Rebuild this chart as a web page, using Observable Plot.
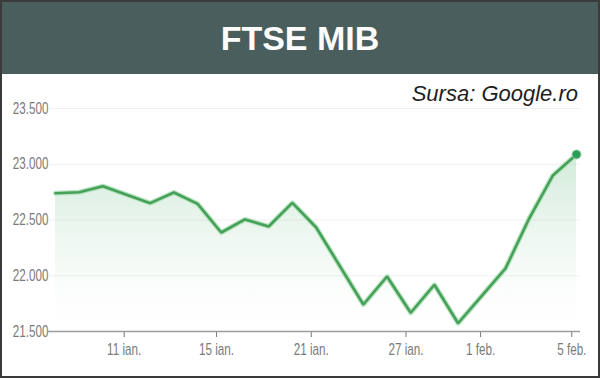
<!DOCTYPE html>
<html>
<head>
<meta charset="utf-8">
<script src="https://cdn.jsdelivr.net/npm/d3@7"></script>
<script src="https://cdn.jsdelivr.net/npm/@observablehq/plot@0.6"></script>
<style>
  html, body { margin: 0; padding: 0; background: #fff; }
  #wrap { position: relative; width: 600px; height: 378px; box-sizing: border-box; border: 2px solid #3a3a3a; overflow: hidden; font-family: "Liberation Sans", Arial, sans-serif; }
  #head { height: 72px; line-height: 72px; background: #4a5e5e; color: #fcfcfc; text-align: center; font-weight: bold; font-size: 34px; }
  #src { position: absolute; top: 81px; right: 20px; font-style: italic; font-size: 22px; line-height: 22px; color: #1e1e1e; }
  #chart svg { display: block; }
</style>
</head>
<body>
<div id="wrap">
  <div id="head">FTSE MIB</div>
  <div id="src">Sursa: Google.ro</div>
  <div id="chart"></div>
</div>
<script>
// Trading days (6 ian. – 5 feb.)
const days = ["6 ian.","7 ian.","8 ian.","11 ian.","12 ian.","13 ian.","14 ian.","15 ian.","18 ian.","19 ian.","20 ian.","21 ian.","22 ian.","25 ian.","26 ian.","27 ian.","28 ian.","29 ian.","1 feb.","2 feb.","3 feb.","4 feb.","5 feb."];
const values = [22740, 22749, 22803, 22727, 22651, 22747, 22645, 22388, 22505, 22442, 22654, 22435, 22089, 21742, 21993, 21668, 21919, 21574, 21820, 22065, 22513, 22899, 23088];
// x tick labels and their positions (trading-day index)
const tickLabels = ["11 ian.", "15 ian.", "21 ian.", "27 ian.", "1 feb.", "5 feb."];
const tickIndex = [2.9, 6.8, 10.8, 14.8, 17.95, 21.8];
const yTicks = [21500, 22000, 22500, 23000, 23500];
const gridTicks = [22000, 22500, 23000, 23500];

const data = days.map((d, i) => ({i, day: d, value: values[i]}));
const labelMap = new Map(tickIndex.map((t, k) => [t, tickLabels[k]]));
const fmt = d => d3.format(",")(d).replace(/,/g, ".");

const svg = Plot.plot({
  width: 596,
  height: 302,
  marginTop: 34,
  marginBottom: 45,
  marginLeft: 53,
  marginRight: 22,
  style: {fontFamily: "Liberation Sans, Arial, sans-serif", fontSize: "16px", color: "#7a7a7a", background: "transparent"},
  x: {domain: [0, 22], ticks: tickIndex, tickFormat: d => labelMap.get(d), tickSize: 6, tickPadding: 6, label: null},
  y: {domain: [21500, 23500], ticks: yTicks, tickFormat: fmt, tickSize: 0, tickPadding: 7, label: null},
  marks: [
    Plot.ruleY(gridTicks, {stroke: "#f0f0f0", strokeWidth: 1, insetLeft: -7, insetRight: -4}),
    Plot.areaY(data, {x: "i", y1: 21500, y2: "value", fill: "url(#ftseGrad)"}),
    Plot.ruleY([21500], {stroke: "#9c9c9c", strokeWidth: 1.5, insetLeft: -7, insetRight: -4}),
    Plot.line(data, {x: "i", y: "value", stroke: "#b9e3c0", strokeWidth: 5, strokeLinejoin: "round"}),
    Plot.line(data, {x: "i", y: "value", stroke: "#45a058", strokeWidth: 2.6, strokeLinejoin: "miter"}),
    Plot.dot(data.slice(-1), {x: "i", y: "value", r: 4.5, fill: "#2f9e5a", stroke: "#8fd3a5", strokeWidth: 1})
  ]
});

// gradient for area fill
const ns = "http://www.w3.org/2000/svg";
const defs = document.createElementNS(ns, "defs");
const grad = document.createElementNS(ns, "linearGradient");
grad.setAttribute("id", "ftseGrad");
grad.setAttribute("x1", "0"); grad.setAttribute("y1", "0");
grad.setAttribute("x2", "0"); grad.setAttribute("y2", "1");
[[0, 0.22], [0.45, 0.09], [0.8, 0.015], [1, 0]].forEach(([o, a]) => {
  const s = document.createElementNS(ns, "stop");
  s.setAttribute("offset", o);
  s.setAttribute("stop-color", "#3aa55a");
  s.setAttribute("stop-opacity", a);
  grad.appendChild(s);
});
defs.appendChild(grad);
svg.insertBefore(defs, svg.firstChild);

// condensed tick labels
svg.querySelectorAll("text").forEach(t => {
  const tr = t.getAttribute("transform") || "";
  t.setAttribute("transform", (tr + " scale(0.73,1)").trim());
});

document.getElementById("chart").appendChild(svg);
</script>
</body>
</html>
